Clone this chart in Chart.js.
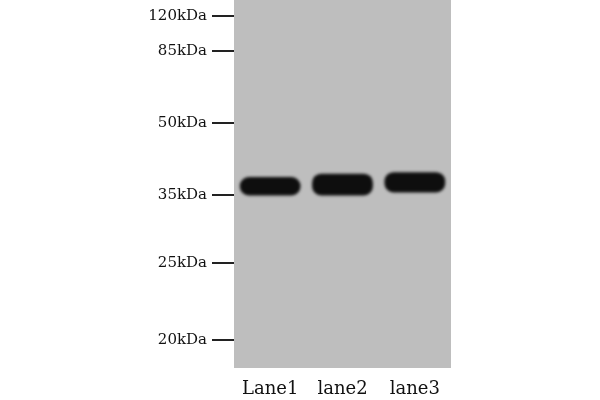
<!DOCTYPE html>
<html>
<head>
<meta charset="utf-8">
<script src="https://cdn.jsdelivr.net/npm/chart.js@4.4.0/dist/chart.umd.min.js"></script>
<style>
html,body{margin:0;padding:0;background:#fff;}
#wrap{width:600px;height:400px;}
</style>
</head>
<body>
<div id="wrap"><canvas id="c" width="600" height="400"></canvas></div>
<script>
// Molecular weight markers and their relative mobility (0 = top of membrane, 1 = bottom)
const markers = ['120kDa', '85kDa', '50kDa', '35kDa', '25kDa', '20kDa'];
const markerMobility = [0.043, 0.139, 0.334, 0.530, 0.715, 0.924];
// Lanes and detected band extent (relative mobility)
const lanes = ['Lane1', 'lane2', 'lane3'];
const bandTop = [0.481, 0.472, 0.468];
const bandBottom = [0.531, 0.531, 0.523];

const panelBg = {
  id: 'panelBg',
  beforeDraw(chart) {
    const {ctx, chartArea: a} = chart;
    ctx.save();
    ctx.fillStyle = '#bebebe';
    ctx.fillRect(a.left, a.top, a.right - a.left, a.bottom - a.top);
    ctx.restore();
  }
};
const blurBands = {
  id: 'blurBands',
  beforeDatasetsDraw(chart) { chart.ctx.save(); chart.ctx.filter = 'blur(1.8px)'; },
  afterDatasetsDraw(chart) { chart.ctx.restore(); }
};

new Chart(document.getElementById('c'), {
  type: 'bar',
  data: {
    labels: lanes,
    datasets: [{
      data: lanes.map((l, i) => [bandTop[i], bandBottom[i]]),
      backgroundColor: '#0e0e0e',
      borderWidth: 0,
      borderSkipped: false,
      borderRadius: 9,
      barPercentage: 0.84,
      categoryPercentage: 1
    }]
  },
  options: {
    responsive: false,
    animation: false,
    layout: { padding: { left: 0, right: 149, top: 0, bottom: 0 } },
    plugins: { legend: { display: false }, tooltip: { enabled: false } },
    scales: {
      x: {
        grid: { display: false, drawTicks: false },
        border: { display: false },
        ticks: { color: '#111', font: { family: 'DejaVu Serif', size: 18 }, padding: 11 },
        afterFit(scale) { scale.height = 32; scale.paddingLeft = 0; scale.paddingRight = 0; }
      },
      y: {
        reverse: true,
        min: 0,
        max: 1,
        afterBuildTicks(scale) { scale.ticks = markerMobility.map(v => ({ value: v })); },
        afterFit(scale) { scale.width = 234; scale.paddingTop = 0; scale.paddingBottom = 0; },
        grid: { drawOnChartArea: false, drawTicks: true, tickLength: 22, color: '#222', lineWidth: 2 },
        border: { display: false },
        ticks: {
          color: '#111',
          font: { family: 'DejaVu Serif', size: 15 },
          padding: 5,
          callback: (v, i) => markers[i]
        }
      }
    }
  },
  plugins: [panelBg, blurBands]
});
</script>
</body>
</html>
